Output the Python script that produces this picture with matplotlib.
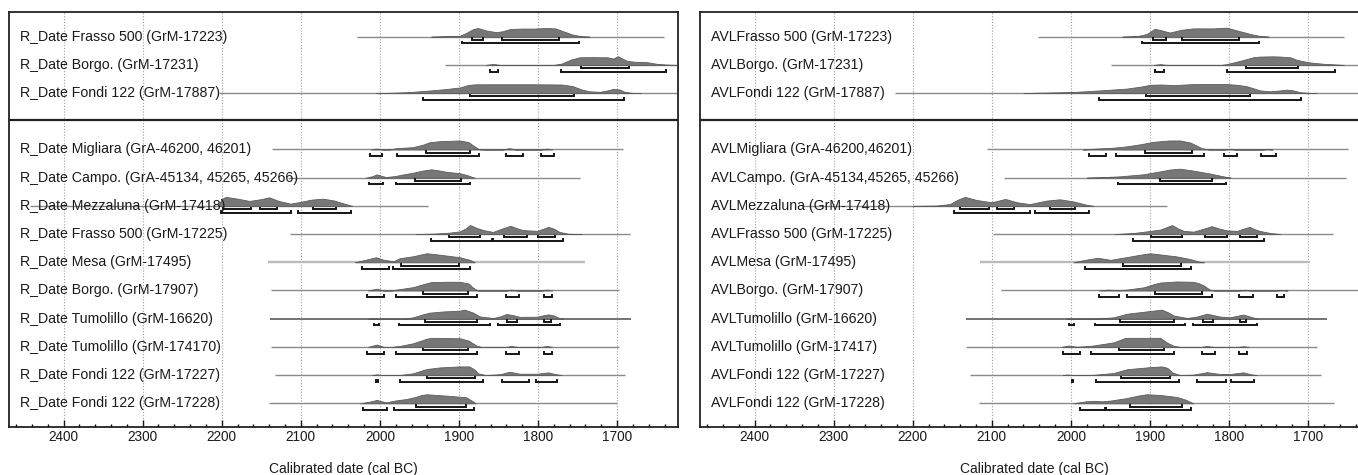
import matplotlib
matplotlib.use("Agg")
import matplotlib.pyplot as plt
from matplotlib.ticker import MultipleLocator, FixedLocator
from matplotlib.transforms import blended_transform_factory

plt.rcParams['font.family'] = ['Liberation Sans', 'DejaVu Sans']

# row slots: 3 rows in the upper box, 10 in the lower box (slot 3 is the gap)
ROW_Y = [0, 1, 2, 4, 5, 6, 7, 8, 9, 10, 11, 12, 13]

LEFT_LABELS = [
    "R_Date Frasso 500 (GrM-17223)", "R_Date Borgo. (GrM-17231)", "R_Date Fondi 122 (GrM-17887)",
    "R_Date Migliara (GrA-46200, 46201)", "R_Date Campo. (GrA-45134, 45265, 45266)",
    "R_Date Mezzaluna (GrM-17418)", "R_Date Frasso 500 (GrM-17225)", "R_Date Mesa (GrM-17495)",
    "R_Date Borgo. (GrM-17907)", "R_Date Tumolillo (GrM-16620)", "R_Date Tumolillo (GrM-174170)",
    "R_Date Fondi 122 (GrM-17227)", "R_Date Fondi 122 (GrM-17228)",
]
RIGHT_LABELS = [
    "AVLFrasso 500 (GrM-17223)", "AVLBorgo. (GrM-17231)", "AVLFondi 122 (GrM-17887)",
    "AVLMigliara (GrA-46200,46201)", "AVLCampo. (GrA-45134,45265, 45266)",
    "AVLMezzaluna (GrM-17418)", "AVLFrasso 500 (GrM-17225)", "AVLMesa (GrM-17495)",
    "AVLBorgo. (GrM-17907)", "AVLTumolillo (GrM-16620)", "AVLTumolillo (GrM-17417)",
    "AVLFondi 122 (GrM-17227)", "AVLFondi 122 (GrM-17228)",
]

# extent of the thin baseline (cal BC, older -> younger)
LEFT_SPAN = [(2029, 1641), (1918, 1620), (2204, 1620), (2137, 1693), (2116, 1747), (2442, 1939),
             (2114, 1684), (2142, 1741), (2138, 1697), (2139, 1683), (2138, 1697), (2133, 1690),
             (2140, 1700)]
RIGHT_SPAN = [(2042, 1655), (1949, 1620), (2222, 1620), (2106, 1649), (2085, 1652), (2340, 1879),
              (2099, 1669), (2115, 1697), (2088, 1620), (2133, 1676), (2133, 1689), (2127, 1684),
              (2116, 1667)]

# probability curves: (year, relative height)
LEFT_DENS = [
    [(1935, 0), (1915, .06), (1899, .1), (1890, .45), (1882, .85), (1876, .96), (1866, .7), (1853, .5),
     (1845, .6), (1835, .85), (1820, .9), (1805, .9), (1790, .96), (1778, .92), (1768, .6), (1757, .25),
     (1745, .05), (1735, 0)],
    [(1866, 0), (1857, .1), (1848, 0), (1780, 0), (1770, .15), (1758, .6), (1747, .85), (1730, .86),
     (1712, .84), (1705, .7), (1699, .96), (1688, .46), (1678, .35), (1662, .3), (1650, .12), (1638, .04),
     (1625, 0)],
    [(2005, 0), (1985, .04), (1965, .1), (1950, .2), (1935, .3), (1916, .45), (1899, .62), (1888, .9),
     (1880, .97), (1850, .98), (1810, .98), (1770, .95), (1756, .77), (1745, .4), (1735, .2), (1722, .14),
     (1712, .3), (1705, .46), (1697, .4), (1690, .12), (1680, .02), (1670, 0)],
    [(2012, 0), (2004, .11), (1996, 0), (1988, 0), (1979, .15), (1958, .26), (1945, .55), (1937, .81),
     (1924, .92), (1899, 1.0), (1888, .82), (1882, .44), (1875, .05), (1870, 0), (1845, 0), (1836, .15),
     (1828, 0), (1796, 0), (1789, .1), (1782, 0)],
    [(2018, 0), (2010, .15), (2004, .37), (1998, .2), (1992, .07), (1981, .18), (1970, .37), (1958, .55),
     (1945, .8), (1935, .93), (1925, .8), (1916, .65), (1899, .5), (1890, .3), (1884, .1), (1880, 0)],
    [(2205, 0), (2200, .75), (2195, 1.0), (2180, .8), (2165, .55), (2150, .75), (2140, .95), (2128, .55),
     (2113, .25), (2100, .45), (2086, .7), (2072, .8), (2058, .6), (2047, .3), (2035, 0)],
    [(1955, 0), (1930, .06), (1912, .16), (1899, .3), (1892, .6), (1886, 1.0), (1878, .7), (1869, .44),
     (1857, .24), (1846, .6), (1835, .92), (1825, .6), (1819, .44), (1801, .36), (1793, .6), (1787, .8),
     (1780, .6), (1773, .24), (1762, .04), (1745, 0)],
    [(2032, 0), (2017, .3), (2005, .56), (1996, .3), (1983, .1), (1975, .45), (1958, .67), (1941, 1.0),
     (1930, .9), (1916, .75), (1899, .56), (1886, .26), (1880, 0)],
    [(2015, 0), (2004, .2), (1995, 0), (1985, 0), (1979, .1), (1958, .37), (1945, .7), (1935, .93),
     (1915, .97), (1899, .96), (1888, .78), (1882, .3), (1876, 0), (1840, 0), (1834, .1), (1826, 0),
     (1795, 0), (1789, .1), (1782, 0)],
    [(2015, 0), (2010, .05), (2003, 0), (1970, 0), (1958, .15), (1945, .5), (1937, .67), (1920, .8),
     (1899, .89), (1893, 1.0), (1882, .67), (1874, .26), (1857, .07), (1848, .25), (1840, .52), (1832, .4),
     (1823, .2), (1801, .22), (1792, .4), (1787, .48), (1780, .35), (1773, .07), (1768, 0)],
    [(2015, 0), (2004, .26), (1995, 0), (1985, 0), (1975, .1), (1958, .4), (1941, .9), (1935, 1.0),
     (1899, .96), (1888, .7), (1878, .15), (1872, 0), (1840, 0), (1834, .1), (1826, 0), (1795, 0),
     (1789, .1), (1782, 0)],
    [(2010, 0), (2004, .08), (1998, 0), (1975, 0), (1958, .2), (1941, .67), (1924, .85), (1899, .96),
     (1887, .96), (1880, .6), (1876, .2), (1866, 0), (1848, .1), (1836, .37), (1823, .15), (1801, .15),
     (1787, .3), (1778, .1), (1770, 0)],
    [(2025, 0), (2012, .2), (2004, .37), (1992, .1), (1981, .3), (1966, .48), (1955, .7), (1947, .93),
     (1941, 1.0), (1916, .85), (1891, .67), (1884, .3), (1879, 0)],
]
RIGHT_DENS = [
    [(1935, 0), (1915, .08), (1904, .3), (1894, .88), (1885, .7), (1875, .46), (1860, .77), (1845, .92),
     (1820, .92), (1803, 1.0), (1786, .6), (1773, .3), (1761, .08), (1750, 0)],
    [(1895, 0), (1887, .08), (1879, 0), (1810, 0), (1803, .08), (1786, .45), (1769, .85), (1761, .92),
     (1745, .95), (1735, .92), (1723, .85), (1714, .55), (1700, .3), (1693, .23), (1680, .12), (1668, .06),
     (1655, 0)],
    [(2060, 0), (2043, .04), (1997, .12), (1963, .3), (1929, .5), (1908, .77), (1900, .92), (1885, .95),
     (1870, .88), (1845, 1.0), (1803, 1.0), (1790, .92), (1778, .77), (1768, .5), (1761, .3), (1748, .2),
     (1735, .3), (1727, .38), (1719, .3), (1710, .1), (1700, .03), (1690, 0)],
    [(1985, 0), (1972, .08), (1946, .2), (1929, .35), (1912, .58), (1896, .85), (1875, 1.0), (1862, 1.0),
     (1849, .77), (1840, .4), (1835, .15), (1825, 0), (1806, 0), (1799, .08), (1792, 0), (1758, 0),
     (1752, .06), (1745, 0)],
    [(1980, 0), (1960, .06), (1938, .15), (1908, .38), (1887, .7), (1875, .9), (1862, 1.0), (1845, .78),
     (1824, .46), (1810, .2), (1803, .08), (1798, 0)],
    [(2200, 0), (2170, .04), (2153, .2), (2144, .65), (2134, 1.0), (2119, .65), (2100, .4), (2083, .77),
     (2068, .4), (2052, .2), (2031, .58), (2014, .73), (1997, .5), (1980, .12), (1971, 0)],
    [(1945, 0), (1921, .12), (1904, .3), (1887, .5), (1878, .8), (1872, 1.0), (1864, .6), (1857, .35),
     (1845, .27), (1832, .6), (1822, .88), (1812, .6), (1803, .42), (1790, .35), (1780, .65), (1774, .8),
     (1768, .55), (1761, .35), (1748, .12), (1735, 0)],
    [(1997, 0), (1980, .3), (1966, .5), (1950, .27), (1929, .58), (1915, .8), (1900, 1.0), (1885, .85),
     (1866, .65), (1849, .35), (1837, .04), (1832, 0)],
    [(1965, 0), (1953, .1), (1940, .03), (1929, .1), (1908, .35), (1895, .7), (1887, .88), (1866, 1.0),
     (1845, .96), (1838, .8), (1832, .55), (1824, .08), (1818, 0), (1788, 0), (1780, .08), (1772, 0),
     (1740, 0), (1733, .06), (1726, 0)],
    [(2006, 0), (2001, .05), (1996, 0), (1975, 0), (1960, .06), (1946, .15), (1929, .55), (1900, .85),
     (1885, 1.0), (1877, .7), (1870, .35), (1853, .08), (1841, .23), (1828, .55), (1811, .23), (1799, .15),
     (1782, .46), (1769, .12), (1762, 0)],
    [(2012, 0), (2003, .15), (1993, .02), (1985, .05), (1972, .15), (1946, .5), (1937, .8), (1931, 1.0),
     (1887, 1.0), (1879, .5), (1870, .12), (1862, 0), (1835, 0), (1828, .1), (1820, 0), (1788, 0),
     (1782, .07), (1775, 0)],
    [(2010, 0), (2005, .06), (1998, 0), (1975, 0), (1946, .23), (1929, .65), (1900, .88), (1885, .96),
     (1878, .8), (1872, .3), (1862, 0), (1845, .05), (1828, .32), (1811, .12), (1799, .12), (1782, .3),
     (1772, .08), (1765, 0)],
    [(1997, 0), (1980, .23), (1971, .27), (1960, .22), (1950, .3), (1929, .58), (1915, .85), (1904, 1.0),
     (1887, .92), (1866, .7), (1855, .4), (1849, .15), (1845, 0)],
]

# 68.2% and 95.4% ranges
LEFT_R68 = [[(1883, 1869), (1846, 1774)], [(1746, 1685)], [(1886, 1755)], [(1942, 1886)], [(1955, 1897)],
            [(2198, 2163), (2152, 2130), (2085, 2056)], [(1912, 1873), (1843, 1814), (1800, 1778)],
            [(1973, 1900)], [(1945, 1888)], [(1943, 1877), (1839, 1827), (1792, 1783)], [(1945, 1888)],
            [(1941, 1880)], [(1954, 1891)]]
LEFT_R95 = [[(1896, 1748)], [(1861, 1850), (1771, 1638)], [(1945, 1691)],
            [(2013, 1997), (1978, 1875), (1841, 1819), (1796, 1780)], [(2014, 1996), (1979, 1886)],
            [(2201, 2113), (2103, 2036)], [(1935, 1858), (1857, 1769)], [(2022, 1989), (1983, 1886)],
            [(2016, 1995), (1980, 1877), (1840, 1824), (1793, 1782)],
            [(2008, 2001), (1976, 1861), (1851, 1772)],
            [(2016, 1995), (1980, 1877), (1840, 1824), (1793, 1782)],
            [(2005, 2003), (1974, 1870), (1846, 1811), (1802, 1776)], [(2021, 1991), (1982, 1881)]]
RIGHT_R68 = [[(1896, 1880), (1859, 1787)], [(1778, 1713)], [(1905, 1773)], [(1906, 1847)], [(1887, 1822)],
             [(2140, 2104), (2094, 2072), (2026, 1995)], [(1899, 1860), (1830, 1802), (1786, 1765)],
             [(1934, 1861)], [(1893, 1834)], [(1938, 1870), (1833, 1820), (1786, 1778)], [(1939, 1882)],
             [(1936, 1875)], [(1925, 1860)]]
RIGHT_R95 = [[(1910, 1762)], [(1894, 1882), (1803, 1666)], [(1964, 1709)],
             [(1977, 1955), (1943, 1832), (1806, 1790), (1759, 1741)], [(1941, 1804)],
             [(2148, 2052), (2046, 1977)], [(1921, 1756)], [(1982, 1848)],
             [(1965, 1939), (1929, 1821), (1788, 1770), (1739, 1730)],
             [(2002, 1996), (1969, 1856), (1845, 1765)],
             [(2010, 1988), (1974, 1870), (1834, 1818), (1787, 1777)],
             [(1999, 1997), (1968, 1863), (1840, 1804), (1797, 1769)], [(1989, 1957), (1956, 1848)]]

XLIM = (2469, 1623)
PEAK = 0.32          # height of a relative 1.0 in row units
OFF68, OFF95, TICK = 0.12, 0.235, 0.06
# baseline style tweaks seen in the original (row index -> (colour, width))
LINE_STYLE = {7: ("#bcbcbc", 1.7), 9: ("#737373", 1.4)}


def panel(ax, labels, spans, dens, r68, r95):
    ax.set_xlim(*XLIM)
    ax.set_ylim(13.83, -0.887)
    tr = blended_transform_factory(ax.transAxes, ax.transData)
    for i, y in enumerate(ROW_Y):
        col, lw = LINE_STYLE.get(i, ("#8a8a8a", 1.0))
        ax.plot(spans[i], [y, y], color=col, lw=lw, zorder=2, solid_capstyle="butt")
        xs = [p[0] for p in dens[i]]
        hs = [y - p[1] * PEAK for p in dens[i]]
        ax.fill_between(xs, y, hs, facecolor="#777777", edgecolor="#5c5c5c", lw=0.6, zorder=3)
        for off, rngs in ((OFF68, r68[i]), (OFF95, r95[i])):
            yb = y + off
            for a, b in rngs:
                ax.plot([a, a, b, b], [yb - TICK, yb, yb, yb - TICK], color="#151515",
                        lw=1.4, zorder=4, solid_joinstyle="miter")
        ax.text(0.0157, y, labels[i], transform=tr, va="center", ha="left",
                fontsize=10.2, color="#1a1a1a", zorder=5)
    ax.axhline(2.95, color="#222222", lw=1.6, zorder=6)
    ax.xaxis.set_major_locator(FixedLocator([2400, 2300, 2200, 2100, 2000, 1900, 1800, 1700]))
    ax.xaxis.set_minor_locator(MultipleLocator(20))
    ax.tick_params(axis="x", which="major", direction="in", length=5, width=1.0, pad=2.5,
                   labelsize=9.8, colors="#1a1a1a")
    ax.tick_params(axis="x", which="minor", direction="in", length=2.5, width=1.0)
    ax.set_yticks([])
    ax.grid(axis="x", which="major", color="#a0a0a0", ls=(0, (1, 1.6)), lw=0.8, zorder=0)
    ax.set_axisbelow(True)
    for s in ax.spines.values():
        s.set_linewidth(1.3)
        s.set_color("#222222")
    ax.set_xlabel("Calibrated date (cal BC)", fontsize=10, labelpad=13, color="#1a1a1a")


fig = plt.figure(figsize=(13.58, 4.75), dpi=100)
axl = fig.add_axes([9 / 1358, 0.1017, 669 / 1358, 0.8737])
axr = fig.add_axes([700 / 1358, 0.1017, 669 / 1358, 0.8737])
panel(axl, LEFT_LABELS, LEFT_SPAN, LEFT_DENS, LEFT_R68, LEFT_R95)
panel(axr, RIGHT_LABELS, RIGHT_SPAN, RIGHT_DENS, RIGHT_R68, RIGHT_R95)
fig.savefig("out.png", dpi=100)
